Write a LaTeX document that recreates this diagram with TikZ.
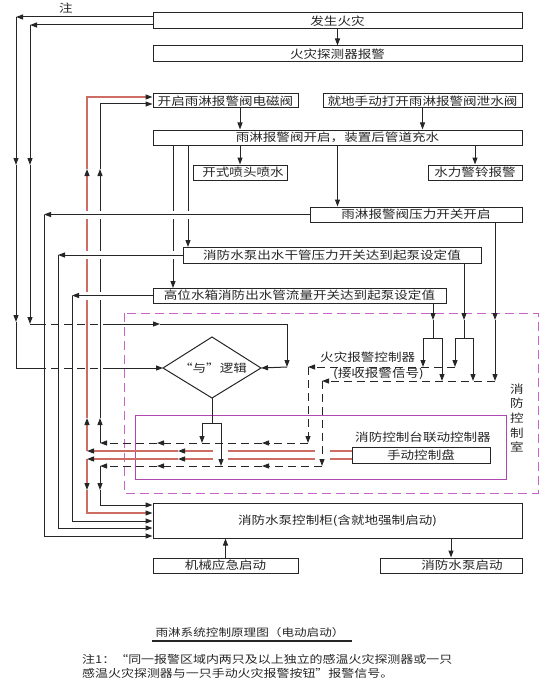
\documentclass[tikz,border=0pt]{standalone}
\usepackage{fontspec}
\newfontfamily\cjk[FakeStretch=1.2]{Noto Sans CJK SC}
\usetikzlibrary{arrows.meta}
\pgfdeclarelayer{bg}
\pgfsetlayers{bg,main}
\definecolor{ink}{gray}{0.15}
\definecolor{rl}{RGB}{205,110,100}
\definecolor{mg}{RGB}{200,100,200}
\definecolor{mgs}{RGB}{175,70,175}
\tikzset{
  ln/.style={draw=ink, line width=1pt},
  arr/.style={ln, -{Triangle[length=7pt,width=5pt]}},
  dsh/.style={dash pattern=on 8pt off 5pt},
  halo/.style={draw=white, line width=8pt},
  redl/.style={draw=rl, line width=1.1pt},
  redarr/.style={redl, -{Triangle[length=7pt,width=5pt,color=ink]}},
  box/.style={draw=ink, line width=1pt, fill=white, inner sep=0pt, text=ink, font=\cjk\fontsize{11.3}{12}\selectfont},
  lbl/.style={inner sep=0pt, text=ink, font=\cjk\fontsize{11.3}{12}\selectfont},
}
\begin{document}
\begin{tikzpicture}[x=1pt,y=-1pt]
\useasboundingbox (0,0) rectangle (547,682);
% boxes
\node[box, minimum width=369pt, minimum height=16pt] (fire) at (337.5,21) {发生火灾};
\node[box, minimum width=369pt, minimum height=16pt] (detect) at (337.5,54) {火灾探测器报警};
\node[box, minimum width=145pt, minimum height=14pt] (sol) at (225.5,101) {开启雨淋报警阀电磁阀};
\node[box, minimum width=199pt, minimum height=14pt] (man) at (422.5,101) {就地手动打开雨淋报警阀泄水阀};
\node[box, minimum width=369pt, minimum height=15pt] (valve) at (337.5,137.5) {雨淋报警阀开启，装置后管道充水};
\node[box, minimum width=94pt, minimum height=15pt] (spray) at (240,172.5) {\hspace{6pt}开式喷头喷水};
\node[box, minimum width=94pt, minimum height=15pt] (bell) at (475,172.5) {水力警铃报警};
\node[box, minimum width=212pt, minimum height=15pt] (psw) at (416,214.5) {雨淋报警阀压力开关开启};
\node[box, minimum width=298pt, minimum height=16pt] (pump) at (332,255) {消防水泵出水干管压力开关达到起泵设定值};
\node[box, minimum width=293pt, minimum height=15pt] (tank) at (299.5,295.5) {高位水箱消防出水管流量开关达到起泵设定值};
\node[box, minimum width=138pt, minimum height=16pt] (panel) at (421,455) {手动控制盘};
\node[box, minimum width=369pt, minimum height=35pt] (cab) at (337.5,520.5) {消防水泵控制柜(含就地强制启动)};
\node[box, minimum width=145pt, minimum height=15pt] (mech) at (225.5,565.5) {机械应急启动\hspace{11pt}};
\node[box, minimum width=142pt, minimum height=15pt] (start) at (451,565.5) {\hspace{22pt}消防水泵启动};
% diamond
\coordinate (dL) at (163,368);
\coordinate (dR) at (261,368);
\coordinate (dT) at (212,337);
\coordinate (dB) at (212,398);
\draw[ln, fill=white] (dL) -- (dT) -- (dR) -- (dB) -- cycle;
\node[lbl] (andlbl) at (213,368) {“与”逻辑};
% labels
\node[lbl] (zhu) at (66,8) {注};
\node[lbl, anchor=west] (fac1) at (320,357) {火灾报警控制器};
\node[lbl, anchor=west] (fac2) at (333,374) {(接收报警信号)};
\node[lbl] (ctl) at (423,437) {消防控制台联动控制器};
\node[lbl, align=center, font=\cjk\fontsize{11.3}{14.7}\selectfont] (room) at (517,418) {消\\防\\控\\制\\室};
\node[lbl, font=\cjk\fontsize{10.5}{12}\selectfont] (cap) at (250,633) {雨淋系统控制原理图（电动启动）};
\draw[draw=ink, line width=1.2pt] (152,641) -- (352,641);
\node[lbl, anchor=west, font=\cjk\fontsize{10.8}{12}\selectfont] (n1) at (82,659) {注1：“同一报警区域内两只及以上独立的感温火灾探测器或一只};
\node[lbl, anchor=west, font=\cjk\fontsize{10.8}{12}\selectfont] (n2) at (82,673) {感温火灾探测器与一只手动火灾报警按钮”报警信号。};

\begin{pgfonlayer}{bg}
% control room
\draw[draw=mg, line width=1pt, dash pattern=on 9pt off 5pt] (124,313) rectangle (538,493);
\draw[draw=mgs, line width=1pt] (135,415) rectangle (506,479);
% long verticals crossed by others
\draw[redarr] (87,451) -- (87,418);
\draw[redarr] (87,418) -- (87,169);
\draw[redarr] (87,169) -- (87,97) -- (sol.west |- 0,97);
\draw[arr] (100,443) -- (100,418);
\draw[arr] (100,418) -- (100,169);
\draw[arr] (100,169) -- (100,104) -- (sol.west |- 0,104);
\draw[arr] (173,145) -- (173,288);
\draw[arr] (188,145) -- (188,247);
% halos for crossings
\draw[halo] (psw.west) -- (44,214.5);
\draw[halo] (pump.west) -- (58,255);
\draw[halo] (tank.west) -- (72,295.5);
% feedback lines to cabinet
\draw[arr] (psw.west) -- (44,214.5);
\draw[arr] (44,214.5) -- (44,536) -- (cab.west |- 0,536);
\draw[arr] (pump.west) -- (58,255);
\draw[arr] (58,255) -- (58,528) -- (cab.west |- 0,528);
\draw[arr] (tank.west) -- (72,295.5);
\draw[arr] (72,295.5) -- (72,521) -- (cab.west |- 0,521);
\draw[redarr] (87,459) -- (87,490);
\draw[redarr] (87,490) -- (87,513) -- (cab.west |- 0,513);
\draw[arr] (100,466) -- (100,490);
\draw[arr] (100,490) -- (100,505) -- (cab.west |- 0,505);
% main chain
\draw[arr] (fire.south) -- (detect.north);
\draw[arr] (sol.south -| spray.north) -- (valve.north -| spray.north);
\draw[arr] (man.south) -- (man.south |- valve.north);
\draw[arr] (valve.south -| spray.north) -- (spray.north);
\draw[arr] (valve.south -| bell.north) -- (bell.north);
\draw[arr] (valve.south) -- (valve.south |- psw.north);
\draw[arr] (mech.north) -- (mech.north |- cab.south);
\draw[arr] (start.north |- cab.south) -- (start.north);
% note lines
\draw[arr] (fire.west |- 0,17) -- (16,17);
\draw[arr] (16,17) -- (16,165);
\draw[arr] (16,165) -- (16,322);
\draw[ln] (16,322) -- (16,368) -- (38,368);
\draw[ln,dsh] (38,368) -- (107,368);
\draw[arr] (107,368) -- (dL);
\draw[arr] (fire.west |- 0,25) -- (30,25);
\draw[arr] (30,25) -- (30,165);
\draw[arr] (30,165) -- (30,324);
\draw[ln] (30,324) -- (38,324);
\draw[ln,dsh] (38,324) -- (107,324);
\draw[arr] (107,324) -- (160,324);
\draw[arr] (160,324) -- (287,324) -- (287,367);
\draw[arr] (287,367) -- (dR);
% AND output
\draw[ln] (dB) -- (212,423);
\draw[ln] (202,423) -- (221,423);
\draw[arr] (202,423) -- (202,443);
\draw[arr] (221,423) -- (221,466);
% inputs to fire alarm controller
\draw[arr] (tank.south -| 433,0) -- (433,320);
\draw[ln] (433,320) -- (433,338);
\draw[ln] (423,338) -- (442,338);
\draw[arr] (423,338) -- (423,367);
\draw[arr] (442,338) -- (442,381);
\draw[arr] (pump.south -| 464,0) -- (464,320);
\draw[ln] (464,320) -- (464,338);
\draw[ln] (455,338) -- (473,338);
\draw[arr] (455,338) -- (455,367);
\draw[arr] (473,338) -- (473,381);
\draw[arr] (psw.south -| 495,0) -- (495,320);
\draw[arr] (495,320) -- (495,381);
% signal buses
\draw[arr,dsh] (455,367) -- (308,367);
\draw[arr,dsh] (308,367) -- (308,443);
\draw[arr,dsh] (308,443) -- (262,443);
\draw[arr,dsh] (262,443) -- (157,443);
\draw[arr,dsh] (157,443) -- (100,443);
\draw[arr,dsh] (495,381) -- (322,381);
\draw[arr,dsh] (322,381) -- (322,466);
\draw[arr,dsh] (322,466) -- (262,466);
\draw[arr,dsh] (262,466) -- (157,466);
\draw[arr,dsh] (157,466) -- (100,466);
% red lines from manual panel
\draw[redl] (panel.west |- 0,451) -- (330,451);
\draw[redl] (315,451) -- (228,451);
\draw[redarr] (213,451) -- (178,451);
\draw[redarr] (178,451) -- (87,451);
\draw[redl] (panel.west |- 0,459) -- (330,459);
\draw[redl] (315,459) -- (228,459);
\draw[redarr] (213,459) -- (178,459);
\draw[redarr] (178,459) -- (87,459);
\end{pgfonlayer}
\end{tikzpicture}
\end{document}
